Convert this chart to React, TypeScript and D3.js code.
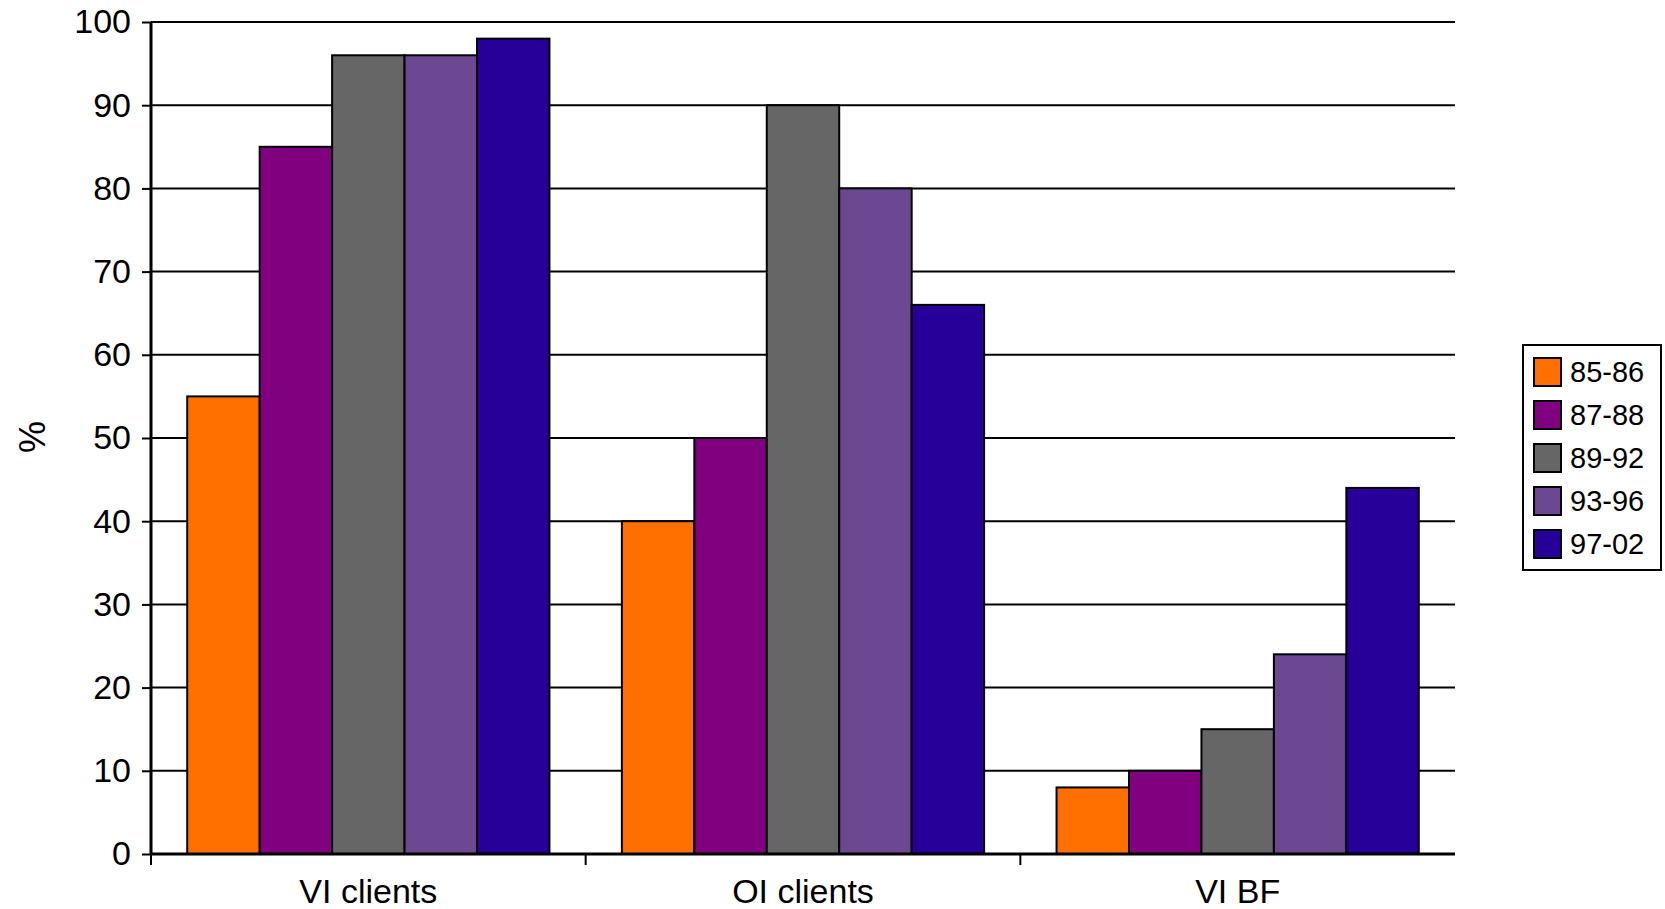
import * as React from 'react';
import { useEffect, useRef } from 'react';
import * as d3 from 'd3';

const categories = ['VI clients', 'OI clients', 'VI BF'];
const seriesNames = ['85-86', '87-88', '89-92', '93-96', '97-02'];
const seriesColors = ['#FF7000', '#800080', '#666666', '#6D4892', '#260099'];
const s8586 = [55, 40, 8];
const s8788 = [85, 50, 10];
const s8992 = [96, 90, 15];
const s9396 = [96, 80, 24];
const s9702 = [98, 66, 44];
const yTicks = [0, 10, 20, 30, 40, 50, 60, 70, 80, 90, 100];

const W = 1665, H = 909;

export default function App() {
  const ref = useRef<SVGSVGElement | null>(null);

  useEffect(() => {
    const svg = d3.select(ref.current);
    svg.selectAll('*').remove();

    const allSeries = [s8586, s8788, s8992, s9396, s9702];
    const left = 151, right = 1455, top = 22, bottom = 854;
    const font = 'Liberation Sans, Arial, sans-serif';

    const x0 = d3.scaleBand().domain(categories).range([left, right]).paddingInner(0).paddingOuter(0);
    // Excel gap width 100% -> one bar width of space per group
    const x1 = d3.scaleBand().domain(seriesNames).range([x0.bandwidth() / 12, x0.bandwidth() * 11 / 12]);
    const y = d3.scaleLinear().domain([0, 100]).range([bottom, top]);

    // gridlines
    svg.append('g')
      .selectAll('line')
      .data(yTicks.filter(d => d > 0))
      .enter()
      .append('line')
      .attr('x1', left).attr('x2', right)
      .attr('y1', d => y(d)).attr('y2', d => y(d))
      .attr('stroke', '#000').attr('stroke-width', 2);

    // bars
    allSeries.forEach((vals, si) => {
      svg.append('g')
        .selectAll('rect')
        .data(vals)
        .enter()
        .append('rect')
        .attr('x', (d, i) => (x0(categories[i]) as number) + (x1(seriesNames[si]) as number))
        .attr('y', d => y(d))
        .attr('width', x1.bandwidth())
        .attr('height', d => bottom - y(d))
        .attr('fill', seriesColors[si])
        .attr('stroke', '#000')
        .attr('stroke-width', 2);
    });

    // y axis
    const yAxis = svg.append('g').attr('transform', 'translate(' + left + ',0)')
      .call(d3.axisLeft(y).tickValues(yTicks).tickSize(9).tickPadding(11));
    yAxis.select('.domain').attr('stroke', '#000').attr('stroke-width', 3).attr('d', 'M0,' + top + 'V' + bottom);
    yAxis.selectAll('.tick line').attr('stroke', '#000').attr('stroke-width', 2);
    yAxis.selectAll('.tick text').attr('font-family', font).attr('font-size', 34).attr('fill', '#000');

    // x axis
    const xg = svg.append('g');
    xg.append('line')
      .attr('x1', left).attr('x2', right)
      .attr('y1', bottom).attr('y2', bottom)
      .attr('stroke', '#000').attr('stroke-width', 3);
    xg.selectAll('.xtick')
      .data(categories)
      .enter()
      .append('line')
      .attr('x1', d => x0(d) as number).attr('x2', d => x0(d) as number)
      .attr('y1', bottom).attr('y2', bottom + 11)
      .attr('stroke', '#000').attr('stroke-width', 2);
    xg.selectAll('.xlabel')
      .data(categories)
      .enter()
      .append('text')
      .attr('x', d => (x0(d) as number) + x0.bandwidth() / 2)
      .attr('y', 903)
      .attr('text-anchor', 'middle')
      .attr('font-family', font).attr('font-size', 34)
      .text(d => d);

    // y label
    svg.append('text')
      .attr('transform', 'translate(45,437) rotate(-90)')
      .attr('text-anchor', 'middle')
      .attr('font-family', font).attr('font-size', 36)
      .text('%');

    // legend
    const lg = svg.append('g');
    lg.append('rect')
      .attr('x', 1523).attr('y', 345).attr('width', 138).attr('height', 225)
      .attr('fill', '#fff').attr('stroke', '#000').attr('stroke-width', 2);
    seriesNames.forEach((name, i) => {
      const cy = 372 + i * 43;
      lg.append('rect')
        .attr('x', 1534).attr('y', cy - 14).attr('width', 27).attr('height', 28)
        .attr('fill', seriesColors[i]).attr('stroke', '#000').attr('stroke-width', 2);
      lg.append('text')
        .attr('x', 1570).attr('y', cy + 10)
        .attr('font-family', font).attr('font-size', 29)
        .text(name);
    });
  }, []);

  return (
    <div style={{ position: 'absolute', left: 0, top: 0 }}>
      <svg ref={ref} width={W} height={H} style={{ display: 'block', background: '#fff' }}></svg>
    </div>
  );
}
